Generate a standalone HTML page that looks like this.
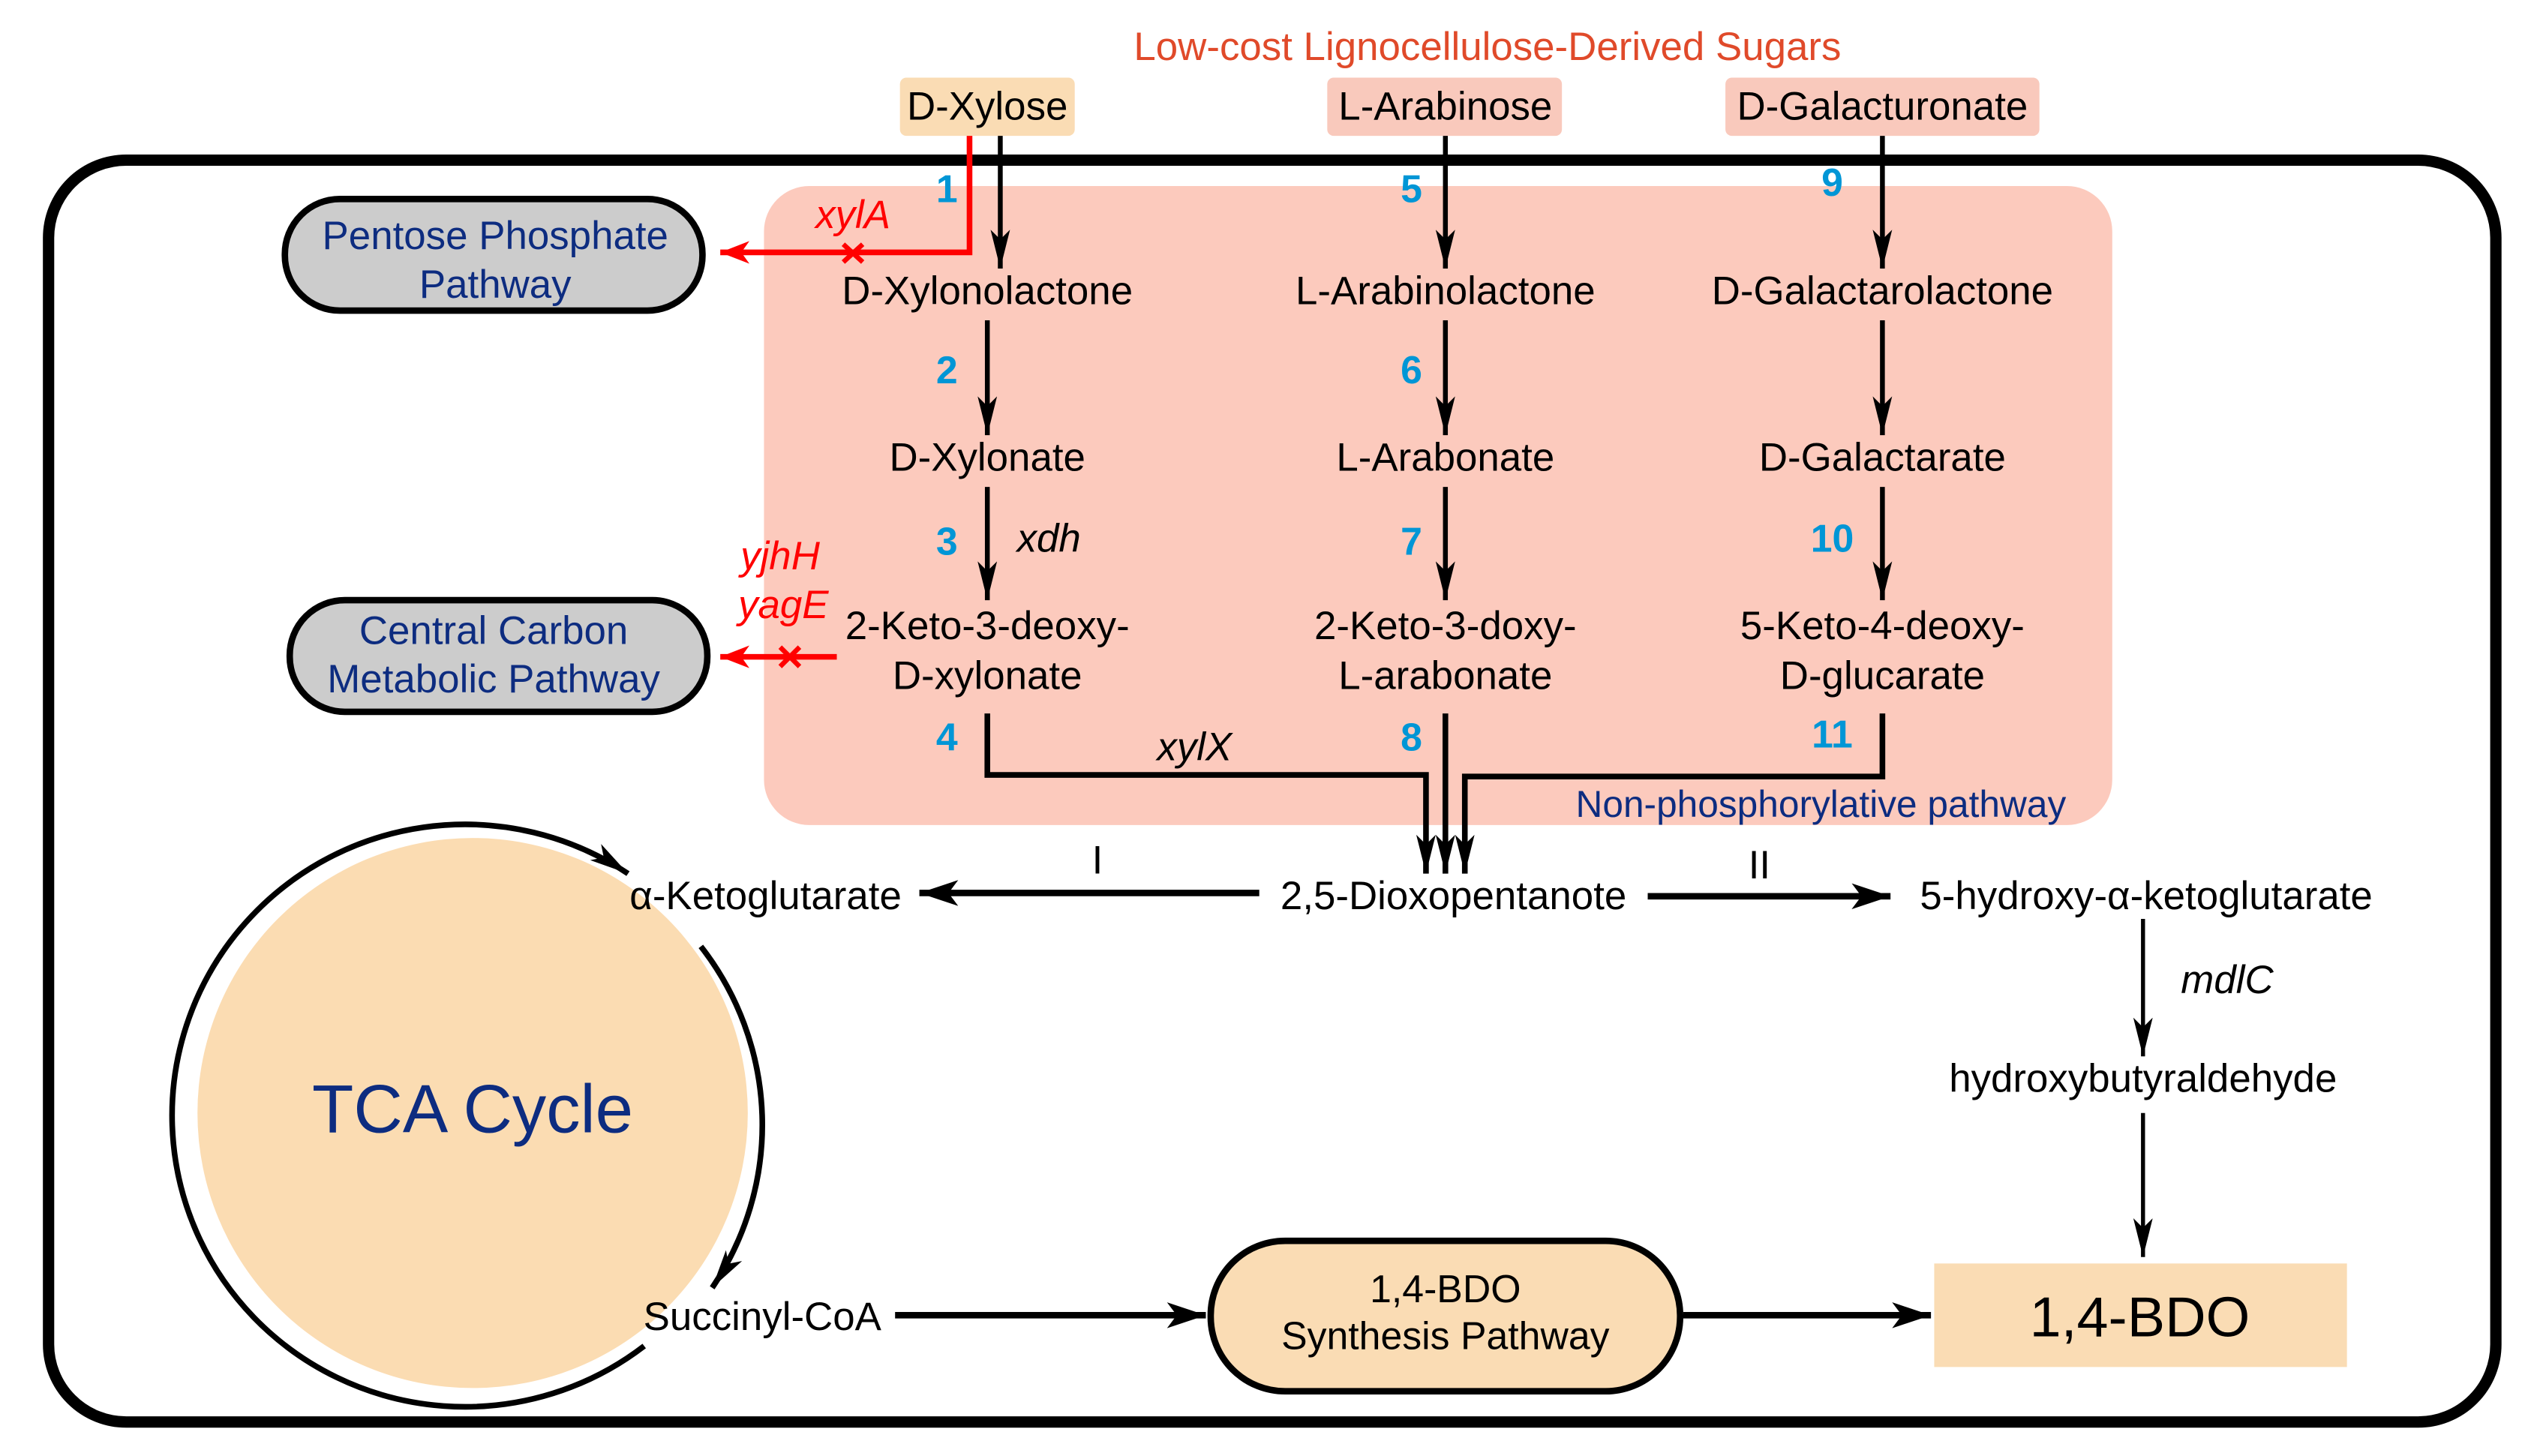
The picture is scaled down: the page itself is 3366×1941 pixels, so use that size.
<!DOCTYPE html>
<html><head><meta charset="utf-8"><style>
html,body{margin:0;padding:0;background:#fff;}
svg{display:block;}
text{font-family:"Liberation Sans",Arial,sans-serif;}
</style></head><body>
<svg width="3366" height="1941" viewBox="0 0 1560 900" preserveAspectRatio="none" xmlns="http://www.w3.org/2000/svg">
<defs>
<marker id="ah" viewBox="0 0 24 16" refX="24" refY="8" markerWidth="24" markerHeight="16" markerUnits="userSpaceOnUse" orient="auto"><path d="M0,0 L24,8 L0,16 L6,8 z" fill="#000"/></marker>
<marker id="ahs" viewBox="0 0 24 12" refX="24" refY="6" markerWidth="24" markerHeight="12" markerUnits="userSpaceOnUse" orient="auto"><path d="M0,0 L24,6 L0,12 L6,6 z" fill="#000"/></marker>
<marker id="ahr" viewBox="0 0 18 14" refX="18" refY="7" markerWidth="18" markerHeight="14" markerUnits="userSpaceOnUse" orient="auto"><path d="M0,0 L18,7 L0,14 L5,7 z" fill="#f00"/></marker>
</defs>
<rect width="1560" height="900" fill="#fff"/>
<rect x="30" y="99" width="1512" height="780" rx="48" fill="none" stroke="#000" stroke-width="7"/>
<rect x="472" y="115" width="833" height="395" rx="28" fill="#fccabd"/>
<circle cx="292" cy="688" r="170" fill="#fbdcb2"/>
<text x="292" y="700" font-size="42" fill="#0d2c80" text-anchor="middle">TCA Cycle</text>
<text x="919" y="37" font-size="24.5" fill="#e04a2a" text-anchor="middle">Low-cost Lignocellulose-Derived Sugars</text>
<rect x="556" y="48" width="108" height="36" rx="4" fill="#fadcb4"/>
<rect x="820" y="48" width="145" height="36" rx="4" fill="#f9c9bc"/>
<rect x="1066" y="48" width="194" height="36" rx="4" fill="#f9c9bc"/>
<g font-size="24.5" fill="#000" text-anchor="middle">
<text x="610" y="74">D-Xylose</text>
<text x="893" y="74">L-Arabinose</text>
<text x="1163" y="74">D-Galacturonate</text>
<text x="610" y="188">D-Xylonolactone</text>
<text x="893" y="188">L-Arabinolactone</text>
<text x="1163" y="188">D-Galactarolactone</text>
<text x="610" y="291">D-Xylonate</text>
<text x="893" y="291">L-Arabonate</text>
<text x="1163" y="291">D-Galactarate</text>
<text x="610" y="395">2-Keto-3-deoxy-</text>
<text x="610" y="426">D-xylonate</text>
<text x="893" y="395">2-Keto-3-doxy-</text>
<text x="893" y="426">L-arabonate</text>
<text x="1163" y="395">5-Keto-4-deoxy-</text>
<text x="1163" y="426">D-glucarate</text>
<text x="473" y="562">α-Ketoglutarate</text>
<text x="898" y="562">2,5-Dioxopentanote</text>
<text x="1326" y="562">5-hydroxy-α-ketoglutarate</text>
<text x="1324" y="675">hydroxybutyraldehyde</text>
<text x="471" y="822">Succinyl-CoA</text>
<text x="678" y="540">I</text>
<text x="1087" y="543">II</text>
</g>
<g font-size="24" fill="#0096d6" font-weight="bold" text-anchor="middle">
<text x="585" y="125">1</text><text x="585" y="237">2</text><text x="585" y="343">3</text><text x="585" y="464">4</text>
<text x="872" y="125">5</text><text x="872" y="237">6</text><text x="872" y="343">7</text><text x="872" y="464">8</text>
<text x="1132" y="121">9</text><text x="1132" y="341">10</text><text x="1132" y="462">11</text>
</g>
<g font-size="24.5" font-style="italic" text-anchor="middle">
<text x="648" y="341" fill="#000">xdh</text>
<text x="738" y="470" fill="#000">xylX</text>
<text x="1376" y="614" fill="#000">mdlC</text>
<text x="527" y="141" fill="#f00">xylA</text>
<text x="482" y="352" fill="#f00">yjhH</text>
<text x="484" y="382" fill="#f00">yagE</text>
</g>
<rect x="176" y="123" width="258" height="69" rx="34" fill="#cccccc" stroke="#000" stroke-width="4"/>
<rect x="179" y="371" width="258" height="69" rx="34" fill="#cccccc" stroke="#000" stroke-width="4"/>
<g font-size="24.5" fill="#0d2c80" text-anchor="middle">
<text x="306" y="154">Pentose Phosphate</text>
<text x="306" y="184">Pathway</text>
<text x="305" y="398">Central Carbon</text>
<text x="305" y="428">Metabolic Pathway</text>
<text x="1125" y="505" font-size="23">Non-phosphorylative pathway</text>
</g>
<path d="M599,84 V156 H445" fill="none" stroke="#f00" stroke-width="3.5" marker-end="url(#ahr)"/>
<path d="M521,151 L533,162 M533,151 L521,162" stroke="#f00" stroke-width="3"/>
<path d="M517,406 H445" fill="none" stroke="#f00" stroke-width="3.5" marker-end="url(#ahr)"/>
<path d="M482,400 L494,412 M494,400 L482,412" stroke="#f00" stroke-width="3"/>
<g stroke="#000" stroke-width="3" fill="none" marker-end="url(#ahs)">
<path d="M618,84 V166"/>
<path d="M893,84 V166"/>
<path d="M1163,84 V166"/>
<path d="M610,198 V269"/><path d="M893,198 V269"/><path d="M1163,198 V269"/>
<path d="M610,301 V371"/><path d="M893,301 V371"/><path d="M1163,301 V371"/>
</g>
<g stroke="#000" stroke-width="3.5" fill="none" marker-end="url(#ahs)">
<path d="M610,441 V479 H881 V540"/>
<path d="M893,441 V540"/>
<path d="M1163,441 V480 H905 V540"/>
</g>
<g stroke="#000" stroke-width="4" fill="none" marker-end="url(#ah)">
<path d="M778,552 H568"/>
<path d="M1018,554 H1168"/>
<path d="M553,813 H745"/>
<path d="M1040,813 H1193"/>
</g>
<g stroke="#000" stroke-width="2.5" fill="none" marker-end="url(#ahs)">
<path d="M1324,568 V653"/>
<path d="M1324,688 V777"/>
</g>
<g stroke="#000" stroke-width="3.5" fill="none" marker-end="url(#ahs)">
<path d="M398,832 A181,180 0 1 1 388,540"/>
<path d="M433,585 A181,180 0 0 1 440,796"/>
</g>
<rect x="748" y="767" width="290" height="93" rx="46" fill="#fadcb4" stroke="#000" stroke-width="4"/>
<g font-size="24" fill="#000" text-anchor="middle">
<text x="893" y="805">1,4-BDO</text>
<text x="893" y="834">Synthesis Pathway</text>
</g>
<rect x="1195" y="781" width="255" height="64" fill="#fadcb4"/>
<text x="1322" y="826" font-size="35" fill="#000" text-anchor="middle">1,4-BDO</text>
</svg>
</body></html>
